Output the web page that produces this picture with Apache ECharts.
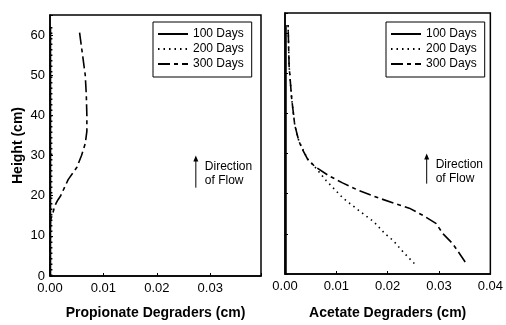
<!DOCTYPE html>
<html><head><meta charset="utf-8">
<script src="https://cdn.jsdelivr.net/npm/echarts@6/dist/echarts.min.js"></script>
<style>html,body{margin:0;padding:0;background:#fff}#c{width:506px;height:325px}</style>
</head><body><div id="c"></div>
<script>
// ---- data ----
const seriesNames = ['100 Days', '200 Days', '300 Days'];
const xTicks = [0, 0.01, 0.02, 0.03, 0.04];
const yTicks = [0, 10, 20, 30, 40, 50, 60];

// Propionate degraders (left panel)
const propH100 = [0, 10, 20, 30, 40, 50, 62];
const prop100  = [0.0001, 0.0001, 0.0001, 0.0001, 0.0001, 0.0001, 0.0001];
const propH200 = [0, 10, 20, 30, 40, 50, 62];
const prop200  = [0.0003, 0.0003, 0.0003, 0.0003, 0.0003, 0.0003, 0.0003];
const propH300 = [0, 5, 10, 14, 15, 17, 18, 19, 20, 22, 24, 27, 30, 33, 36, 40, 45, 50, 55, 61];
const prop300  = [0, 0, 0, 0.0001, 0.0004, 0.0008, 0.0011, 0.0015, 0.0020, 0.0027, 0.0034, 0.0050, 0.0059, 0.0066, 0.0069, 0.0069, 0.0068, 0.0066, 0.0061, 0.0055];

// Acetate degraders (right panel)
const acH100 = [0, 10, 20, 30, 40, 50, 62];
const ac100  = [0.0002, 0.0002, 0.0002, 0.0002, 0.0002, 0.0002, 0.0002];
const acH200 = [2.6, 5.5, 8.3, 10, 13, 15.6, 18.9, 20.5, 23.3, 26.7, 28.6, 33.1, 37.1, 43.7, 51.8, 62];
const ac200  = [0.0252, 0.0230, 0.0211, 0.0195, 0.0173, 0.0146, 0.0113, 0.0101, 0.0080, 0.0058, 0.0044, 0.0027, 0.0019, 0.0013, 0.0008, 0.0006];
const acH300 = [3, 7.5, 10, 12.6, 14.5, 16.4, 18.9, 20.9, 22.7, 24.5, 26.8, 28.6, 31, 33.1, 37.1, 43.7, 51.8, 62];
const ac300  = [0.0351, 0.0327, 0.0308, 0.0294, 0.0270, 0.0242, 0.0183, 0.0142, 0.0112, 0.0085, 0.0058, 0.0044, 0.0034, 0.0027, 0.0019, 0.0013, 0.0008, 0.0006];

// annotation (data coords): arrow x, arrow y0, y1
const arrowLeft  = [0.0273, 22, 30];
const arrowRight = [0.0276, 22.5, 30];
const annotText = 'Direction\nof Flow';

// ---- chart ----
const FONT = 'Liberation Sans, Arial, sans-serif';
const pairs = (xs, hs) => xs.map((v, i) => [v, hs[i]]);
const styles = [
  { type: 'solid', width: 1.5 },
  { type: [1.5, 4], width: 1.6 },
  { type: [12, 4, 4, 4], width: 1.6 }
];
function mkSeries(name, data, idx, gi) {
  return {
    name: name, type: 'line', xAxisIndex: gi, yAxisIndex: gi, data: data,
    showSymbol: false, symbol: 'none', smooth: false, animation: false,
    lineStyle: Object.assign({ color: '#000' }, styles[idx]),
    itemStyle: { color: '#000' }
  };
}
function xAxis(gi, name, max, gap) {
  return {
    type: 'value', gridIndex: gi, min: 0, max: max, interval: 0.01,
    name: name, nameLocation: 'middle', nameGap: gap,
    nameTextStyle: { fontFamily: FONT, fontWeight: 'bold', fontSize: 14, color: '#000' },
    axisLine: { lineStyle: { color: '#000', width: 1.5 } },
    axisTick: { inside: true, length: 3, lineStyle: { color: '#000' } },
    axisLabel: { fontFamily: FONT, fontSize: 13, color: '#000', margin: 6,
      formatter: v => xTicks.some(t => Math.abs(t - v) < 1e-9) ? v.toFixed(2) : '' },
    splitLine: { show: false }
  };
}
function yAxis(gi, showLabels) {
  return {
    type: 'value', gridIndex: gi, min: 0, max: 65, interval: 10,
    name: showLabels ? 'Height (cm)' : '', nameLocation: 'middle', nameGap: 25,
    nameTextStyle: { fontFamily: FONT, fontWeight: 'bold', fontSize: 14, color: '#000' },
    axisLine: { lineStyle: { color: '#000', width: 1.5 } },
    axisTick: { inside: true, length: 3, lineStyle: { color: '#000' } },
    axisLabel: { show: showLabels, fontFamily: FONT, fontSize: 13, color: '#000', margin: 5,
      formatter: v => yTicks.indexOf(v) >= 0 ? String(v) : '' },
    splitLine: { show: false }
  };
}
function legend(left) {
  return {
    show: true, data: seriesNames, left: left, top: 22, orient: 'vertical',
    borderColor: '#000', borderWidth: 1, padding: [6, 8, 7, 4], itemGap: 3,
    itemWidth: 30, itemHeight: 12, align: 'left',
    itemStyle: { opacity: 0, borderWidth: 0 },
    textStyle: { fontFamily: FONT, fontSize: 12, color: '#000' },
    selectedMode: false
  };
}
const chart = echarts.init(document.getElementById('c'), null, { renderer: 'canvas' });
const option = {
  animation: false,
  backgroundColor: '#fff',
  grid: [
    { left: 50, top: 15, width: 211, height: 266, show: true, borderColor: '#000', borderWidth: 1.5, backgroundColor: 'transparent' },
    { left: 285, top: 13, width: 210, height: 266, show: true, borderColor: '#000', borderWidth: 1.5, backgroundColor: 'transparent' }
  ],
  xAxis: [xAxis(0, 'Propionate Degraders (cm)', 0.0395, 30), xAxis(1, 'Acetate Degraders (cm)', 0.04, 32)],
  yAxis: [yAxis(0, true), yAxis(1, false)],
  legend: [legend(153), legend(386)],
  series: [
    mkSeries('100 Days', pairs(prop100, propH100), 0, 0),
    mkSeries('200 Days', pairs(prop200, propH200), 1, 0),
    mkSeries('300 Days', pairs(prop300, propH300), 2, 0),
    mkSeries('100 Days', pairs(ac100, acH100), 0, 1),
    mkSeries('200 Days', pairs(ac200, acH200), 1, 1),
    mkSeries('300 Days', pairs(ac300, acH300), 2, 1)
  ]
};
chart.setOption(option);

function annot(gi, arr) {
  const p0 = chart.convertToPixel({ gridIndex: gi }, [arr[0], arr[1]]);
  const p1 = chart.convertToPixel({ gridIndex: gi }, [arr[0], arr[2]]);
  return [
    { type: 'line', shape: { x1: p0[0], y1: p0[1], x2: p1[0], y2: p1[1] + 3 }, style: { stroke: '#000', lineWidth: 1 } },
    { type: 'polygon', shape: { points: [[p1[0], p1[1]], [p1[0] - 2.5, p1[1] + 6], [p1[0] + 2.5, p1[1] + 6]] }, style: { fill: '#000' } },
    { type: 'text', x: p1[0] + 9, y: p1[1] + 4, style: { text: annotText, font: '12px ' + FONT, fill: '#000', lineHeight: 14 } }
  ];
}
chart.setOption({ graphic: annot(0, arrowLeft).concat(annot(1, arrowRight)) });
</script></body></html>
